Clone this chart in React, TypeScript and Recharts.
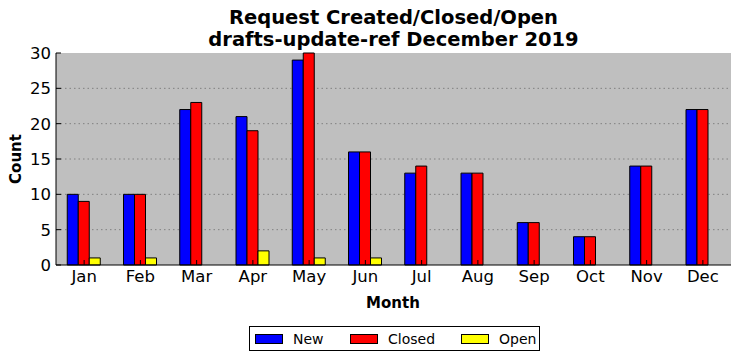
import { BarChart, Bar, XAxis, YAxis, CartesianGrid, Legend } from 'recharts';

const months = ['Jan', 'Feb', 'Mar', 'Apr', 'May', 'Jun', 'Jul', 'Aug', 'Sep', 'Oct', 'Nov', 'Dec'];
const newCounts = [10, 10, 22, 21, 29, 16, 13, 13, 6, 4, 14, 22];
const closedCounts = [9, 10, 23, 19, 30, 16, 14, 13, 6, 4, 14, 22];
const openCounts = [1, 1, 0, 2, 1, 1, 0, 0, 0, 0, 0, 0];
const yTicks = [0, 5, 10, 15, 20, 25, 30];

const seriesInfo = [
  { key: 'New', color: '#0000ff', left: 5 },
  { key: 'Closed', color: '#ff0000', left: 100 },
  { key: 'Open', color: '#ffff00', left: 211 },
];

const data = months.map((m, i) => ({
  month: m,
  New: newCounts[i],
  Closed: closedCounts[i],
  Open: openCounts[i],
}));

const font = 'DejaVu Sans, sans-serif';

// plot rectangle inside the 742x361 chart
const plot = { left: 56, top: 53, right: 11, bottom: 96 };
const TICK = 5;

function LegendBox() {
  return (
    <div
      style={{
        position: 'relative',
        border: '1px solid #000',
        background: '#fff',
        width: 291,
        height: 25,
        fontFamily: font,
        fontSize: 14,
        color: '#000',
        boxSizing: 'border-box',
      }}
    >
      {seriesInfo.map((s) => (
        <div
          key={s.key}
          style={{ position: 'absolute', left: s.left, top: 0, height: 23, display: 'flex', alignItems: 'center' }}
        >
          <span
            style={{
              display: 'inline-block',
              width: 26,
              height: 8,
              background: s.color,
              border: '1px solid #000',
              marginRight: 10,
            }}
          />
          <span>{s.key}</span>
        </div>
      ))}
    </div>
  );
}

const noLabel = () => <g />;

export default function App() {
  return (
    <div style={{ position: 'absolute', left: 0, top: 0, width: 742, height: 361, background: '#fff' }}>
      {/* grey axes background, kept under the svg so inward ticks stay visible */}
      <div
        style={{
          position: 'absolute',
          left: plot.left,
          top: plot.top,
          right: plot.right,
          bottom: plot.bottom,
          background: '#bfbfbf',
        }}
      />
      <div
        style={{
          position: 'absolute',
          left: 56,
          width: 675,
          top: 7,
          textAlign: 'center',
          fontFamily: font,
          fontWeight: 'bold',
          fontSize: 19.5,
          lineHeight: '22px',
          color: '#000',
        }}
      >
        <div>Request Created/Closed/Open</div>
        <div>drafts-update-ref December 2019</div>
      </div>
      <div
        style={{
          position: 'absolute',
          left: 16,
          top: 159,
          transform: 'translate(-50%, -50%) rotate(-90deg)',
          fontFamily: font,
          fontWeight: 'bold',
          fontSize: 15,
          color: '#000',
          whiteSpace: 'nowrap',
        }}
      >
        Count
      </div>
      <div
        style={{
          position: 'absolute',
          left: 393,
          top: 303,
          transform: 'translate(-50%, -50%)',
          fontFamily: font,
          fontWeight: 'bold',
          fontSize: 15,
          color: '#000',
        }}
      >
        Month
      </div>
      <BarChart
        width={742}
        height={361}
        data={data}
        margin={{ top: plot.top, right: plot.right, left: 0, bottom: 0 }}
        barCategoryGap="20%"
        barGap={0}
      >
        <CartesianGrid
          vertical={false}
          stroke="#808080"
          strokeDasharray="1.5 3"
          horizontalValues={[5, 10, 15, 20, 25]}
        />
        <XAxis
          dataKey="month"
          height={plot.bottom}
          tickSize={TICK}
          tickMargin={0}
          interval={0}
          stroke="#000"
          tickLine={{ stroke: '#000', transform: `translate(0,${-TICK})` }}
          tick={{ fill: '#000', fontSize: 16.5, fontFamily: font }}
        />
        <XAxis
          xAxisId="top"
          dataKey="month"
          orientation="top"
          height={0}
          tickSize={TICK}
          interval={0}
          stroke="#000"
          tickLine={{ stroke: '#000', transform: `translate(0,${TICK})` }}
          tick={noLabel}
        />
        <YAxis
          domain={[0, 30]}
          ticks={yTicks}
          width={plot.left}
          tickSize={TICK}
          tickMargin={0}
          interval={0}
          stroke="#000"
          tickLine={{ stroke: '#000', transform: `translate(${TICK},0)` }}
          tick={{ fill: '#000', fontSize: 16.5, fontFamily: font }}
        />
        <YAxis
          yAxisId="right"
          orientation="right"
          domain={[0, 30]}
          ticks={yTicks}
          width={0}
          tickSize={TICK}
          interval={0}
          stroke="#000"
          tickLine={{ stroke: '#000', transform: `translate(${-TICK},0)` }}
          tick={noLabel}
        />
        <Legend
          layout="vertical"
          align="center"
          verticalAlign="middle"
          wrapperStyle={{ top: 326, left: 249, width: 291, height: 25 }}
          content={() => <LegendBox />}
        />
        {seriesInfo.map((s) => (
          <Bar
            key={s.key}
            dataKey={s.key}
            fill={s.color}
            stroke="#000"
            strokeWidth={1}
            isAnimationActive={false}
          />
        ))}
        {/* invisible series so the top/right frame axes get a scale and draw their ticks */}
        <Bar
          xAxisId="top"
          yAxisId="right"
          dataKey="Open"
          fill="none"
          stroke="none"
          legendType="none"
          isAnimationActive={false}
        />
      </BarChart>
    </div>
  );
}
